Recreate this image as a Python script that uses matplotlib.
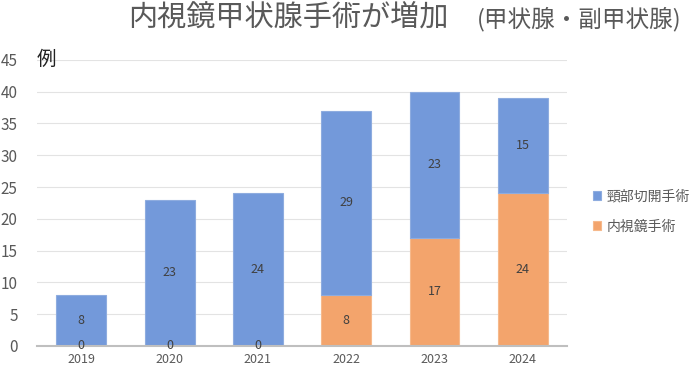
import matplotlib.pyplot as plt

plt.rcParams['font.family'] = ['Noto Sans CJK JP', 'DejaVu Sans']

# data
years = ['2019', '2020', '2021', '2022', '2023', '2024']
endoscopic = [0, 0, 0, 8, 17, 24]      # 内視鏡手術
neck_open = [8, 23, 24, 29, 23, 15]    # 頸部切開手術

blue = '#7399da'
orange = '#f3a46c'
gray = '#595959'

fig = plt.figure(figsize=(7, 3.7), dpi=100)
ax = fig.add_axes([0.053, 0.065, 0.757, 0.773])

x = range(len(years))
bw = 0.565
b1 = ax.bar(x, endoscopic, bw, color=orange, edgecolor='#f6b98c', linewidth=0.8,
            label='内視鏡手術', zorder=2)
b2 = ax.bar(x, neck_open, bw, bottom=endoscopic, color=blue, edgecolor='#8eacdf',
            linewidth=0.8, label='頸部切開手術', zorder=2)

# data labels
for i in x:
    ax.text(i, endoscopic[i] / 2, str(endoscopic[i]), ha='center', va='center',
            fontsize=9, color='#404040', zorder=3)
    ax.text(i, endoscopic[i] + neck_open[i] / 2, str(neck_open[i]), ha='center',
            va='center', fontsize=9, color='#404040', zorder=3)

ax.set_xlim(-0.5, 5.5)
ax.set_ylim(0, 45)
ax.set_yticks(range(0, 46, 5))
ax.set_xticks(list(x))
ax.set_xticklabels(years)
ax.tick_params(axis='y', length=0, labelsize=11, labelcolor=gray, pad=14)
ax.tick_params(axis='x', length=0, labelsize=9, labelcolor=gray, pad=5)
ax.grid(axis='y', color='#e3e3e3', linewidth=0.8, zorder=0)
ax.set_axisbelow(True)
for s in ['top', 'right', 'left']:
    ax.spines[s].set_visible(False)
ax.spines['bottom'].set_color('#bfbfbf')
ax.spines['bottom'].set_linewidth(1.5)

# unit label
fig.text(0.052, 0.838, '例', fontsize=14, color='#222222', ha='left', va='center')

# title
fig.text(0.183, 0.952, '内視鏡甲状腺手術が増加', fontsize=21, color=gray,
         ha='left', va='center')
fig.text(0.681, 0.948, '(甲状腺・副甲状腺)', fontsize=17, color=gray,
         ha='left', va='center')

# legend (blue first)
ax.legend(handles=[b2, b1], loc='center left', bbox_to_anchor=(1.025, 0.47),
          frameon=False, fontsize=10, labelcolor=gray, handlelength=0.6,
          handleheight=0.6, handletextpad=0.4, labelspacing=1.15)

fig.savefig('out.png', dpi=100)
